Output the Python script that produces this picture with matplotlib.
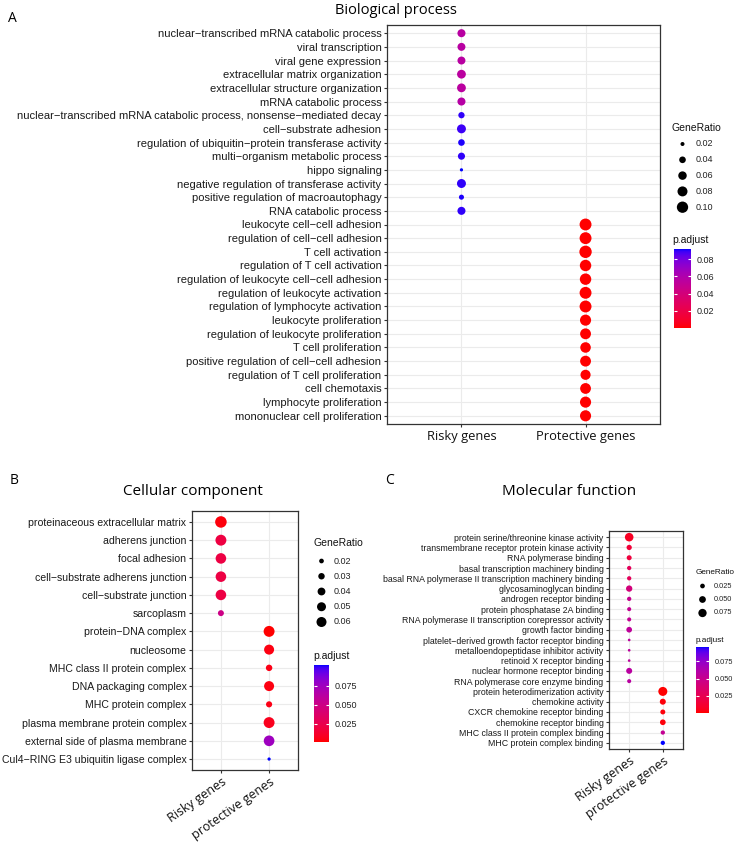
import numpy as np
import matplotlib
matplotlib.use('Agg')
import matplotlib.pyplot as plt
from matplotlib.colors import ListedColormap, Normalize

W, H = 736, 842

# ---- data ----
groups_A = ['Risky genes', 'Protective genes']
terms_A = ['nuclear−transcribed mRNA catabolic process', 'viral transcription', 'viral gene expression',
           'extracellular matrix organization', 'extracellular structure organization', 'mRNA catabolic process',
           'nuclear−transcribed mRNA catabolic process, nonsense−mediated decay', 'cell−substrate adhesion',
           'regulation of ubiquitin−protein transferase activity', 'multi−organism metabolic process',
           'hippo signaling', 'negative regulation of transferase activity',
           'positive regulation of macroautophagy', 'RNA catabolic process',
           'leukocyte cell−cell adhesion', 'regulation of cell−cell adhesion', 'T cell activation',
           'regulation of T cell activation', 'regulation of leukocyte cell−cell adhesion',
           'regulation of leukocyte activation', 'regulation of lymphocyte activation',
           'leukocyte proliferation', 'regulation of leukocyte proliferation', 'T cell proliferation',
           'positive regulation of cell−cell adhesion', 'regulation of T cell proliferation',
           'cell chemotaxis', 'lymphocyte proliferation', 'mononuclear cell proliferation']
group_A = [0] * 14 + [1] * 15
ratio_A = [0.055, 0.054, 0.054, 0.064, 0.064, 0.055, 0.037, 0.066, 0.040, 0.045, 0.016, 0.066, 0.027, 0.055,
           0.110, 0.110, 0.118, 0.102, 0.102, 0.110, 0.110, 0.097, 0.093, 0.088, 0.093, 0.082, 0.092, 0.097, 0.097]
padj_A = [0.056, 0.056, 0.056, 0.055, 0.055, 0.057, 0.090, 0.089, 0.091, 0.090, 0.092, 0.090, 0.091, 0.090,
          1e-10, 1e-10, 1e-10, 1e-10, 1e-10, 1e-10, 1e-10, 1e-9, 1e-9, 1e-9, 1e-9, 1e-9, 1e-9, 1e-9, 1e-9]
ratio_ticks_A = [0.02, 0.04, 0.06, 0.08, 0.10]
ratio_labels_A = ['0.02', '0.04', '0.06', '0.08', '0.10']
padj_ticks_A = [0.02, 0.04, 0.06, 0.08]
padj_labels_A = ['0.02', '0.04', '0.06', '0.08']

groups_B = ['Risky genes', 'protective genes']
terms_B = ['proteinaceous extracellular matrix', 'adherens junction', 'focal adhesion',
           'cell−substrate adherens junction', 'cell−substrate junction', 'sarcoplasm',
           'protein−DNA complex', 'nucleosome', 'MHC class II protein complex', 'DNA packaging complex',
           'MHC protein complex', 'plasma membrane protein complex', 'external side of plasma membrane',
           'Cul4−RING E3 ubiquitin ligase complex']
group_B = [0] * 6 + [1] * 8
ratio_B = [0.077, 0.070, 0.066, 0.066, 0.066, 0.027, 0.070, 0.060, 0.030, 0.060, 0.028, 0.070, 0.067, 0.014]
padj_B = [0.003, 0.020, 0.021, 0.021, 0.021, 0.050, 0.001, 0.004, 0.005, 0.004, 0.005, 0.007, 0.075, 0.102]
ratio_ticks_B = [0.02, 0.03, 0.04, 0.05, 0.06]
ratio_labels_B = ['0.02', '0.03', '0.04', '0.05', '0.06']
padj_ticks_B = [0.025, 0.050, 0.075]
padj_labels_B = ['0.025', '0.050', '0.075']

groups_C = ['Risky genes', 'protective genes']
terms_C = ['protein serine/threonine kinase activity', 'transmembrane receptor protein kinase activity',
           'RNA polymerase binding', 'basal transcription machinery binding',
           'basal RNA polymerase II transcription machinery binding', 'glycosaminoglycan binding',
           'androgen receptor binding', 'protein phosphatase 2A binding',
           'RNA polymerase II transcription corepressor activity', 'growth factor binding',
           'platelet−derived growth factor receptor binding', 'metalloendopeptidase inhibitor activity',
           'retinoid X receptor binding', 'nuclear hormone receptor binding', 'RNA polymerase core enzyme binding',
           'protein heterodimerization activity', 'chemokine activity', 'CXCR chemokine receptor binding',
           'chemokine receptor binding', 'MHC class II protein complex binding', 'MHC protein complex binding']
group_C = [0] * 15 + [1] * 6
ratio_C = [0.080, 0.031, 0.028, 0.021, 0.021, 0.044, 0.021, 0.019, 0.019, 0.036, 0.009, 0.009, 0.009, 0.040,
           0.019, 0.088, 0.040, 0.028, 0.036, 0.021, 0.021]
padj_C = [0.008, 0.015, 0.017, 0.028, 0.028, 0.042, 0.050, 0.052, 0.052, 0.055, 0.056, 0.056, 0.056, 0.058,
          0.058, 0.0005, 0.002, 0.002, 0.002, 0.052, 0.0956]
ratio_ticks_C = [0.025, 0.050, 0.075]
ratio_labels_C = ['0.025', '0.050', '0.075']
padj_ticks_C = [0.025, 0.050, 0.075]
padj_labels_C = ['0.025', '0.050', '0.075']


# red -> blue gradient interpolated in Lab, like ggplot
def srgb_to_lab(rgb):
    rgb = np.asarray(rgb, float)
    lin = np.where(rgb <= 0.04045, rgb / 12.92, ((rgb + 0.055) / 1.055) ** 2.4)
    M = np.array([[0.4124, 0.3576, 0.1805], [0.2126, 0.7152, 0.0722], [0.0193, 0.1192, 0.9505]])
    xyz = M @ lin / np.array([0.95047, 1.0, 1.08883])
    f = np.where(xyz > 0.008856, np.cbrt(xyz), 7.787 * xyz + 16 / 116)
    return np.array([116 * f[1] - 16, 500 * (f[0] - f[1]), 200 * (f[1] - f[2])])


def lab_to_srgb(lab):
    L, a, b = lab
    fy = (L + 16) / 116
    f = np.array([fy + a / 500, fy, fy - b / 200])
    xyz = np.where(f > 0.2069, f ** 3, (f - 16 / 116) / 7.787) * np.array([0.95047, 1.0, 1.08883])
    Minv = np.array([[3.2406, -1.5372, -0.4986], [-0.9689, 1.8758, 0.0415], [0.0557, -0.2040, 1.0570]])
    lin = np.clip(Minv @ xyz, 0, 1)
    return np.clip(np.where(lin <= 0.0031308, 12.92 * lin, 1.055 * lin ** (1 / 2.4) - 0.055), 0, 1)


lab_r = srgb_to_lab([1, 0, 0])
lab_b = srgb_to_lab([0, 0, 1])
cmap = ListedColormap([lab_to_srgb(lab_r + t * (lab_b - lab_r)) for t in np.linspace(0, 1, 256)])


def px(x0, y0, x1, y1):
    return [x0 / W, 1 - y1 / H, (x1 - x0) / W, (y1 - y0) / H]


def diam(v, cal):
    # point diameter (px): area grows linearly with GeneRatio
    (v0, d0), (v1, d1) = cal
    v = np.asarray(v, float)
    return np.sqrt(np.maximum(d0 ** 2 + (d1 ** 2 - d0 ** 2) * (v - v0) / (v1 - v0), 1.0))


def s_pt(d):
    return (d * 72 / 100) ** 2


fig = plt.figure(figsize=(W / 100, H / 100), dpi=100)
fig.patch.set_facecolor('white')
ov = fig.add_axes([0, 0, 1, 1])
ov.set_xlim(0, W)
ov.set_ylim(H, 0)
ov.axis('off')

TITLE_FONT = ['Open Sans', 'DejaVu Sans']
LAB_FONT = ['Liberation Sans', 'DejaVu Sans']


def panel(rect, terms, group, ratio, padj, groups, cal, ysize, xsize, rot):
    ax = fig.add_axes(rect)
    n = len(terms)
    y = np.arange(n)
    norm = Normalize(min(padj), max(padj))
    sc = ax.scatter(group, y, s=s_pt(diam(ratio, cal)), c=padj, cmap=cmap, norm=norm,
                    edgecolors='none', zorder=3)
    ax.set_xlim(-0.6, 1.6)
    ax.set_ylim(n - 0.4, -0.6)
    ax.set_yticks(y)
    ax.set_yticklabels(terms, fontsize=ysize, family=LAB_FONT, color='#1a1a1a')
    ax.set_xticks([0, 1])
    if rot:
        ax.set_xticklabels(groups, fontsize=xsize, family=TITLE_FONT, color='#111111',
                           rotation=35, ha='right', rotation_mode='anchor')
    else:
        ax.set_xticklabels(groups, fontsize=xsize, family=TITLE_FONT, color='#111111')
    ax.grid(True, color='#EBEBEB', lw=0.8, zorder=0)
    ax.set_axisbelow(True)
    for sp in ax.spines.values():
        sp.set_color('#333333')
        sp.set_linewidth(0.9)
    ax.tick_params(length=2.5, width=0.8, color='#333333', pad=1.5)
    return sc


def legends(sc, cal, rticks, rlabels, x0, ty, y0, dy, ptitle_y, bar, ptick, plabels, fs_t, fs_v):
    ov.text(x0, ty, 'GeneRatio', fontsize=fs_t, family=LAB_FONT, va='center', ha='left', color='#111111')
    d = diam(rticks, cal)
    ys = y0 + dy * np.arange(len(rticks))
    dx = (bar[2] - bar[0]) / 2 + bar[0]
    ov.scatter(np.full(len(rticks), dx), ys, s=s_pt(d), color='black', edgecolors='none')
    for yy, t in zip(ys, rlabels):
        ov.text(bar[2] + 5, yy, t, fontsize=fs_v, family=LAB_FONT, va='center', ha='left', color='#222222')
    ov.text(x0, ptitle_y, 'p.adjust', fontsize=fs_t, family=LAB_FONT, va='center', ha='left', color='#111111')
    cax = fig.add_axes(px(*bar))
    cb = fig.colorbar(sc, cax=cax)
    cb.outline.set_visible(False)
    cb.set_ticks(ptick)
    cb.set_ticklabels(plabels)
    cax.yaxis.set_ticks_position('both')
    cax.tick_params(direction='in', length=2.5, width=0.8, color='white', labelsize=fs_v,
                    labelleft=False, labelright=True, pad=4, labelcolor='#222222')
    for lab in cax.get_yticklabels():
        lab.set_family(LAB_FONT)


# ---- panel A ----
cal_A = [(0.02, 4.0), (0.10, 11.3)]
scA = panel(px(387, 25, 660, 424), terms_A, group_A, ratio_A, padj_A, groups_A, cal_A, 8.0, 9.3, False)
legends(scA, cal_A, ratio_ticks_A, ratio_labels_A, 672, 128, 144, 15.8, 240, (674, 249, 691, 328),
        padj_ticks_A, padj_labels_A, 7.5, 6.5)
fig.text(396 / W, 1 - 11 / H, 'Biological process', fontsize=10.5, family=TITLE_FONT, ha='center', va='center')
fig.text(12 / W, 1 - 18 / H, 'A', fontsize=10, family=TITLE_FONT, ha='center', va='center')

# ---- panel B ----
cal_B = [(0.02, 4.7), (0.06, 10.0)]
scB = panel(px(192, 511, 298, 770), terms_B, group_B, ratio_B, padj_B, groups_B, cal_B, 7.6, 9.0, True)
legends(scB, cal_B, ratio_ticks_B, ratio_labels_B, 313, 543, 561, 15.25, 656, (314, 665, 329, 742),
        padj_ticks_B, padj_labels_B, 7.5, 6.5)
fig.text(193 / W, 1 - 492 / H, 'Cellular component', fontsize=11, family=TITLE_FONT, ha='center', va='center')
fig.text(14 / W, 1 - 481 / H, 'B', fontsize=10, family=TITLE_FONT, ha='center', va='center')

# ---- panel C ----
cal_C = [(0.025, 4.7), (0.075, 8.3)]
scC = panel(px(609, 531, 683, 749), terms_C, group_C, ratio_C, padj_C, groups_C, cal_C, 6.3, 9.0, True)
legends(scC, cal_C, ratio_ticks_C, ratio_labels_C, 696, 572, 586, 13.5, 640, (696, 647, 709, 713),
        padj_ticks_C, padj_labels_C, 5.9, 5.3)
fig.text(569 / W, 1 - 492 / H, 'Molecular function', fontsize=11, family=TITLE_FONT, ha='center', va='center')
fig.text(390 / W, 1 - 481 / H, 'C', fontsize=10, family=TITLE_FONT, ha='center', va='center')

fig.savefig('out.png', dpi=100, facecolor='white')
